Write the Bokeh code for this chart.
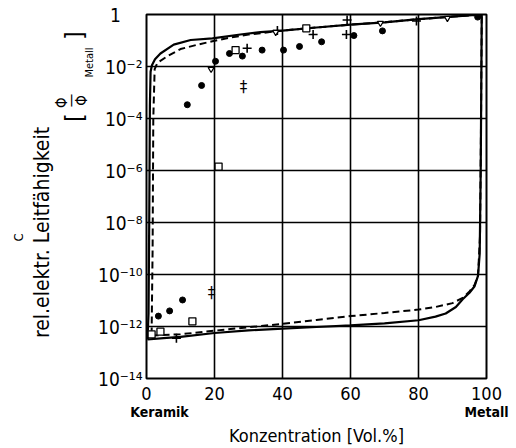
import math
from bokeh.plotting import figure
from bokeh.models import Range1d, FixedTicker, LinearAxis, LinearScale
from bokeh.core.properties import value
from bokeh.embed import file_html
from bokeh.resources import INLINE

# ---------------- data ----------------
# solid model curve (closed envelope): lower branch left->right, upper branch right->left
solid_x = [0.3, 5, 10, 20, 30, 40, 50, 60, 70, 80, 85, 88, 91, 93, 95, 96.5, 97.5, 98.0, 98.3, 98.5,
           98.6, 90, 80, 70, 60, 50, 40, 33.5, 27.6, 19.4, 13, 8, 4.1, 2.5, 1.6, 1.2, 1.0, 0.8, 0.6, 0.3]
solid_logy = [-12.5, -12.45, -12.4, -12.25, -12.15, -12.08, -12.02, -11.96, -11.88, -11.76, -11.62, -11.5,
              -11.25, -10.95, -10.7, -10.45, -10.05, -9.2, -6.0, -2.0,
              0.0, -0.08, -0.18, -0.3, -0.39, -0.5, -0.62, -0.68, -0.77, -0.92, -0.98, -1.16, -1.5, -1.72,
              -1.95, -2.2, -3.5, -8.0, -11.5, -12.5]

# dashed model curve
dashed_x = [1.5, 10, 20, 30, 40, 50, 60, 70, 80, 85, 90, 93, 95, 96.5, 97.5, 98.1, 98.4, 98.6,
            90, 80, 70, 60, 50, 40, 30, 25, 19.7, 15, 10, 6.2, 3.2, 2.4, 2.0, 1.8, 1.5]
dashed_logy = [-12.35, -12.3, -12.16, -12.03, -11.9, -11.75, -11.6, -11.48, -11.35, -11.25, -11.1,
               -10.9, -10.65, -10.4, -10.05, -8.5, -4.0, 0.0,
               -0.08, -0.18, -0.3, -0.39, -0.5, -0.62, -0.77, -0.88, -1.02, -1.16, -1.33, -1.6, -1.86,
               -2.1, -4.0, -9.0, -12.35]

# measured points
circ_x = [12, 16.2, 20.3, 24.4, 28.2, 34, 40.3, 45, 51.5, 61, 69.4, 97.4, 3.5, 6.8, 10.6]
circ_logy = [-3.47, -2.73, -1.8, -1.5, -1.6, -1.37, -1.37, -1.23, -1.05, -0.81, -0.63, -0.1,
             -11.6, -11.4, -10.98]

sq_x = [26.2, 47, 21.2, 13.5, 4.1, 1.5]
sq_logy = [-1.37, -0.53, -5.85, -11.8, -12.2, -12.3]

plus_x = [29.6, 49, 59, 58.8, 79.4, 38.5, 8.8]
plus_logy = [-1.3, -0.77, -0.21, -0.77, -0.25, -0.62, -12.45]

ddag_x = [28.5, 19.1]
ddag_logy = [-2.77, -10.7]

tri_x = [19.0, 38.0, 68.8, 88.5]
tri_logy = [-2.1, -0.68, -0.33, -0.14]

x_ticks = [0, 20, 40, 60, 80, 100]
y_exps = [0, -2, -4, -6, -8, -10, -12, -14]
end_labels = {"Keramik": 3.8, "Metall": 100}

SUP = str.maketrans("-0123456789", "⁻⁰¹²³⁴⁵⁶⁷⁸⁹")


def ylab(e):
    # "1" is set under the "10" of the other labels (figure spaces as padding)
    return "1\u2007\u2007" if e == 0 else "10" + str(e).translate(SUP)


def pw(vals):
    return [10.0 ** v for v in vals]


# ---------------- figure ----------------
FONT = "DejaVu Sans Condensed, DejaVu Sans"
W, H = 516, 448
FL, FT, FR, FB = 146, 14, 486, 378

p = figure(width=W, height=H, output_backend="svg", toolbar_location=None,
           x_range=Range1d(0, 100), y_range=Range1d(1e-14, 1), y_axis_type="log",
           min_border_left=FL, min_border_right=W - FR, min_border_top=FT,
           min_border_bottom=H - FB)
p.background_fill_color = "white"
p.border_fill_color = "white"
p.outline_line_color = "black"
p.outline_line_width = 2

# screen-like helper range for text placed beside the frame (value = pixel row)
p.extra_y_ranges = {"scr": Range1d(start=FB, end=FT)}
p.extra_y_scales = {"scr": LinearScale()}


def plain(ax):
    ax.axis_line_color = None
    ax.major_tick_line_color = None
    ax.minor_tick_line_color = None
    ax.major_tick_out = 0
    ax.major_tick_in = 0
    ax.major_label_text_color = "black"
    ax.major_label_text_font = FONT


# main axes
p.xaxis.ticker = FixedTicker(ticks=x_ticks)
p.yaxis.ticker = FixedTicker(ticks=[10.0 ** e for e in y_exps])
p.yaxis.major_label_overrides = {10.0 ** e: ylab(e) for e in y_exps}
for ax in (p.xaxis[0], p.yaxis[0]):
    plain(ax)
    ax.major_label_text_font_size = "18px"
p.yaxis.major_label_text_font_size = "19px"
p.xaxis.major_label_standoff = 8
p.yaxis.major_label_standoff = 4

# second bottom axis: Keramik / Metall and the axis title
bx = LinearAxis(ticker=FixedTicker(ticks=list(end_labels.values())),
                major_label_overrides={v: k for k, v in end_labels.items()},
                axis_label="Konzentration [Vol.%]")
plain(bx)
bx.major_label_text_font_size = "14px"
bx.major_label_text_font_style = "bold"
bx.major_label_standoff = 1
bx.axis_label_standoff = 2
bx.axis_label_text_font = FONT
bx.axis_label_text_font_size = "18px"
bx.axis_label_text_font_style = "normal"
bx.axis_label_text_color = "black"
p.add_layout(bx, "below")


# left side texts, stacked outward from the frame
def side(labels, size, standoff, style="normal"):
    ax = LinearAxis(y_range_name="scr", ticker=FixedTicker(ticks=list(labels.values())),
                    major_label_overrides={v: k for k, v in labels.items()},
                    major_label_orientation="vertical")
    plain(ax)
    ax.major_label_text_font_size = size
    ax.major_label_text_font_style = style
    ax.major_label_standoff = standoff
    p.add_layout(ax, "left")


side({"Metall": 62}, "11px", 0)                      # subscript
side({"Φ": 100}, "15px", -11)                        # denominator
side({"[": 117, "]": 35}, "24px", -19)               # brackets
side({"—": 100}, "15px", -22)                        # fraction bar
side({"Φ ": 100}, "15px", -13)                       # numerator
side({"rel.elektr. Leitfähigkeit": 232}, "21px", -4)
side({"C": 237}, "13px", 1)

# grid
p.xgrid.ticker = FixedTicker(ticks=[20, 40, 60, 80])
p.ygrid.ticker = FixedTicker(ticks=[10.0 ** e for e in y_exps])
for g in (p.xgrid[0], p.ygrid[0]):
    g.grid_line_color = "black"
    g.grid_line_width = 1.6
    g.grid_line_alpha = 1.0

# curves
p.line(solid_x, pw(solid_logy), line_color="black", line_width=2.2)
p.line(dashed_x, pw(dashed_logy), line_color="black", line_width=2, line_dash="7 4")

# markers
p.scatter(circ_x, pw(circ_logy), marker="circle", size=6, fill_color="black", line_color="black")
p.scatter(sq_x, pw(sq_logy), marker="square", size=7, fill_color="white", line_color="black",
          line_width=1.3)
p.scatter(plus_x, pw(plus_logy), marker="cross", size=9, line_color="black", line_width=1.6)
p.scatter(tri_x, pw(tri_logy), marker="inverted_triangle", size=6, fill_color="white",
          line_color="black", line_width=1.2)
p.text(ddag_x, pw(ddag_logy), text=["‡"] * len(ddag_x), text_font=value("DejaVu Sans"),
       text_font_size="15px", text_align="center", text_baseline="middle", text_color="black")

open("out.html", "w").write(file_html(p, INLINE))
